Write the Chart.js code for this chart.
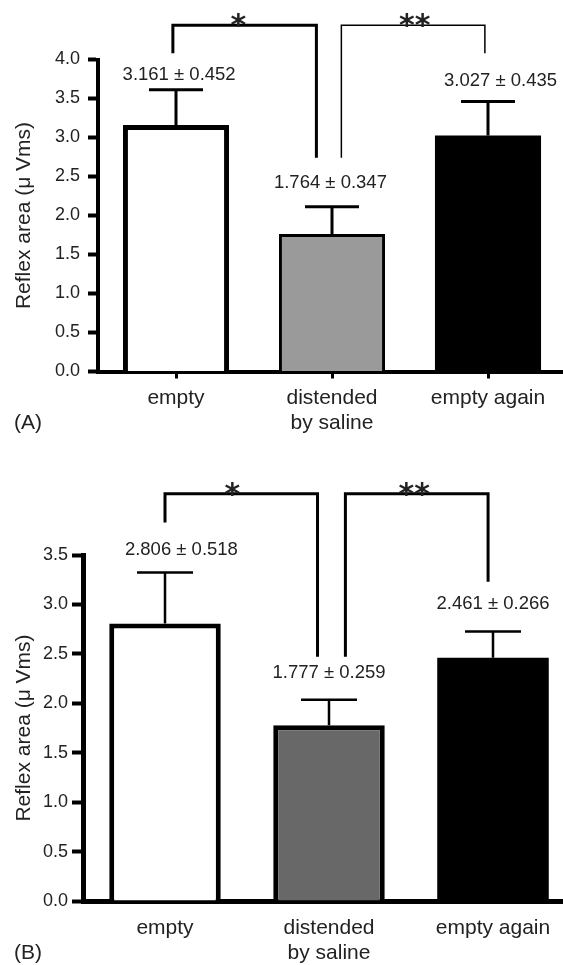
<!DOCTYPE html>
<html>
<head>
<meta charset="utf-8">
<script src="https://cdn.jsdelivr.net/npm/chart.js@4/dist/chart.umd.min.js"></script>
<style>
  html, body { margin: 0; padding: 0; background: #fff; overflow: hidden; }
  .panel { position: absolute; left: 0; }
</style>
</head>
<body>
<canvas id="chartA" class="panel" width="600" height="465" style="top:0"></canvas>
<canvas id="chartB" class="panel" width="600" height="500" style="top:465px"></canvas>
<script>
const categories = ['empty', ['distended', 'by saline'], 'empty again'];
const yTitle = 'Reflex area (\u03bc Vms)';

// panel A
const meansA = [3.161, 1.764, 3.027];
const semsA = [0.452, 0.347, 0.435];
const fillsA = ['#ffffff', '#9a9a9a', '#000000'];
const yMaxA = 4.0;

// panel B
const meansB = [2.806, 1.777, 2.461];
const semsB = [0.518, 0.259, 0.266];
const fillsB = ['#ffffff', '#686868', '#000000'];
const yMaxB = 3.5;

// where the "mean ± sem" texts sit (category index, value units)
const labelXA = [0.02, 0.99, 2.08];
const labelYA = [3.80, 2.42, 3.72];
const labelXB = [0.10, 1.0, 2.0];
const labelYB = [3.55, 2.31, 3.01];

// significance brackets (category index, value units)
const bracketsA = [
  { from: -0.02, to: 0.90, top: 4.44, fromEnd: 4.08, toEnd: 2.74, mark: '*', at: 0.40, lw: 3 },
  { from: 1.06, to: 1.98, top: 4.44, fromEnd: 2.74, toEnd: 4.08, mark: '**', at: 1.53, lw: 1.5 }
];
const bracketsB = [
  { from: 0.0, to: 0.93, top: 4.12, fromEnd: 3.83, toEnd: 2.47, mark: '*', at: 0.41, lw: 3 },
  { from: 1.10, to: 1.97, top: 4.12, fromEnd: 2.47, toEnd: 3.23, mark: '**', at: 1.52, lw: 3 }
];

const FONT = '"Liberation Sans", Arial, Helvetica, sans-serif';
const INK = '#222';

function makeChart(el, p) {
  const annotate = {
    id: 'annotate' + p.letter,
    afterDatasetsDraw(chart) {
      const { ctx, scales: { x, y }, chartArea } = chart;
      ctx.save();
      ctx.strokeStyle = '#000';
      ctx.lineCap = 'butt';
      ctx.lineJoin = 'miter';

      // error bars (upper only) and value texts
      p.means.forEach((m, i) => {
        const cx = x.getPixelForValue(i);
        const top = y.getPixelForValue(m + p.sems[i]);
        ctx.lineWidth = p.errWidth;
        ctx.beginPath();
        ctx.moveTo(cx, y.getPixelForValue(m));
        ctx.lineTo(cx, top);
        ctx.moveTo(cx - p.capHalf, top);
        ctx.lineTo(cx + p.capHalf, top);
        ctx.stroke();

        ctx.fillStyle = INK;
        ctx.font = '18.5px ' + FONT;
        ctx.textAlign = 'center';
        ctx.textBaseline = 'middle';
        ctx.fillText(m.toFixed(3) + ' \u00b1 ' + p.sems[i].toFixed(3),
          x.getPixelForValue(p.labelX[i]), y.getPixelForValue(p.labelY[i]));
      });

      // brackets with stars
      p.brackets.forEach(b => {
        const x1 = x.getPixelForValue(b.from);
        const x2 = x.getPixelForValue(b.to);
        const yt = y.getPixelForValue(b.top);
        ctx.lineWidth = b.lw;
        ctx.beginPath();
        ctx.moveTo(x1, y.getPixelForValue(b.fromEnd));
        ctx.lineTo(x1, yt);
        ctx.lineTo(x2, yt);
        ctx.lineTo(x2, y.getPixelForValue(b.toEnd));
        ctx.stroke();

        ctx.fillStyle = INK;
        ctx.font = 'bold 30px "DejaVu Sans", sans-serif';
        ctx.textAlign = 'center';
        ctx.textBaseline = 'alphabetic';
        ctx.fillText(b.mark, x.getPixelForValue(b.at), yt + 10);
      });

      // panel letter
      ctx.fillStyle = INK;
      ctx.font = '21px ' + FONT;
      ctx.textAlign = 'left';
      ctx.textBaseline = 'middle';
      ctx.fillText('(' + p.letter + ')', 14, chartArea.bottom + 52);
      ctx.restore();
    }
  };

  return new Chart(el, {
    type: 'bar',
    data: {
      labels: categories,
      datasets: [{
        data: p.means,
        backgroundColor: p.fills,
        borderColor: '#000',
        borderWidth: p.borders,
        barPercentage: 0.68,
        categoryPercentage: 1
      }]
    },
    options: {
      responsive: false,
      animation: false,
      devicePixelRatio: 1,
      layout: { padding: { top: p.padTop, right: p.padRight, left: 0, bottom: 0 } },
      plugins: { legend: { display: false }, tooltip: { enabled: false } },
      scales: {
        x: {
          grid: {
            offset: false, drawOnChartArea: false, drawTicks: p.xTicks,
            tickLength: 7, tickWidth: 3, color: '#000'
          },
          border: { color: '#000', width: p.axisWidth },
          ticks: {
            color: INK, font: { family: FONT, size: 21 }, padding: p.xPad,
            maxRotation: 0, autoSkip: false
          },
          afterFit: s => { s.height = p.xHeight; }
        },
        y: {
          min: 0,
          max: p.max,
          ticks: {
            stepSize: 0.5, color: INK, font: { family: FONT, size: 18 },
            padding: p.yPad, callback: v => v.toFixed(1)
          },
          grid: { drawOnChartArea: false, tickLength: p.yTickLen, tickWidth: 4, color: '#000' },
          border: { color: '#000', width: p.axisWidth },
          title: {
            display: true, text: yTitle, color: INK,
            font: { family: FONT, size: 21 }, padding: { top: 12, bottom: 0 }
          },
          afterFit: s => { s.width = p.yWidth; }
        }
      }
    },
    plugins: [annotate]
  });
}

makeChart(document.getElementById('chartA'), {
  letter: 'A', means: meansA, sems: semsA, fills: fillsA, borders: [5, 3, 0],
  max: yMaxA, labelX: labelXA, labelY: labelYA, brackets: bracketsA,
  padTop: 59.5, padRight: 34, xHeight: 93.5, yWidth: 98,
  xTicks: true, xPad: 7, yPad: 8, yTickLen: 10, axisWidth: 4,
  errWidth: 3, capHalf: 27
});

makeChart(document.getElementById('chartB'), {
  letter: 'B', means: meansB, sems: semsB, fills: fillsB, borders: [5, 5, 0],
  max: yMaxB, labelX: labelXB, labelY: labelYB, brackets: bracketsB,
  padTop: 90, padRight: 25, xHeight: 64, yWidth: 83,
  xTicks: false, xPad: 14.5, yPad: 4, yTickLen: 11, axisWidth: 5,
  errWidth: 2.5, capHalf: 28
});
</script>
</body>
</html>
